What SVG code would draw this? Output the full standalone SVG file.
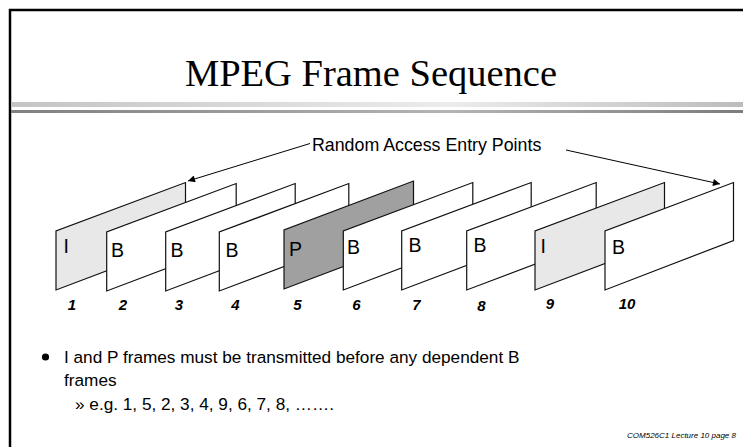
<svg xmlns="http://www.w3.org/2000/svg" width="743" height="447" viewBox="0 0 743 447">
<style>
.frame{stroke:#111;stroke-width:1.2;stroke-linejoin:miter}
.lbl{font-family:"Liberation Sans",Arial,sans-serif;font-size:19.5px;fill:#000}
.num{font-family:"Liberation Sans",Arial,sans-serif;font-size:15px;font-weight:bold;font-style:italic;fill:#000;text-anchor:middle}
.body{font-family:"Liberation Sans",Arial,sans-serif;font-size:17.2px;fill:#000}
.conn{stroke:#000;stroke-width:1;fill:none;marker-end:url(#ah)}
</style>
<defs>
<marker id="ah" viewBox="0 0 10 10" refX="10" refY="5" markerWidth="9" markerHeight="7" markerUnits="userSpaceOnUse" orient="auto">
<path d="M0,0 L10,5 L0,10 Z" fill="#000"/>
</marker>
<linearGradient id="g1" x1="0" y1="0" x2="1" y2="0">
<stop offset="0" stop-color="#c4c4c4"/>
<stop offset="0.6" stop-color="#ececec"/>
<stop offset="1" stop-color="#bcbcbc"/>
</linearGradient>
<linearGradient id="g2" x1="0" y1="0" x2="1" y2="0">
<stop offset="0" stop-color="#808080"/>
<stop offset="0.6" stop-color="#b4b4b4"/>
<stop offset="1" stop-color="#7c7c7c"/>
</linearGradient>
</defs>
<rect width="743" height="447" fill="#fff"/>
<g id="border">
<path d="M10,447 V10 H743" fill="none" stroke="#000" stroke-width="2.5"/>
<rect x="11" y="102" width="732" height="5" fill="url(#g1)"/>
<rect x="11" y="110" width="732" height="3" fill="url(#g2)"/>
</g>
<g id="title">
<text x="371" y="86" text-anchor="middle" font-family="Liberation Serif,Times New Roman,serif" font-size="38.5" fill="#000">MPEG Frame Sequence</text>
</g>
<g id="label-random">
<text x="312" y="151" font-family="Liberation Sans,Arial,sans-serif" font-size="17.8" fill="#000">Random Access Entry Points</text>
</g>
<g id="f1"><polygon class="frame" fill="#e8e8e8" points="56,290 56,231 185.5,182.5 185.5,241"/><text class="lbl" x="63.5" y="253">I</text></g>
<g id="f2"><polygon class="frame" fill="#fff" points="106.7,291 106.7,232 236.2,183.5 236.2,242"/><text class="lbl" x="111" y="257">B</text></g>
<g id="f3"><polygon class="frame" fill="#fff" points="165.7,291 165.7,232 295.2,183.5 295.2,242"/><text class="lbl" x="170.5" y="257">B</text></g>
<g id="f4"><polygon class="frame" fill="#fff" points="219.3,291 219.3,232 348.8,183.5 348.8,242"/><text class="lbl" x="225.5" y="257">B</text></g>
<g id="f5"><polygon class="frame" fill="#a0a0a0" points="284,289 284,230 413.5,181 413.5,240"/><text class="lbl" x="289" y="256">P</text></g>
<g id="f6"><polygon class="frame" fill="#fff" points="343.3,290 343.3,231 472.8,182.5 472.8,241"/><text class="lbl" x="347" y="254">B</text></g>
<g id="f7"><polygon class="frame" fill="#fff" points="401.7,290 401.7,231 531.2,182.5 531.2,241"/><text class="lbl" x="408.5" y="252">B</text></g>
<g id="f8"><polygon class="frame" fill="#fff" points="466.7,290 466.7,231 596.2,182.5 596.2,241"/><text class="lbl" x="473.5" y="252">B</text></g>
<g id="f9"><polygon class="frame" fill="#e8e8e8" points="535,290 535,231 664.5,182.5 664.5,241"/><text class="lbl" x="540.5" y="253">I</text></g>
<g id="f10"><polygon class="frame" fill="#fff" points="605,290 605,231 733.5,182.5 733.5,240.5"/><text class="lbl" x="612" y="254">B</text></g>
<g id="numbers">
<text class="num" x="72" y="310">1</text>
<text class="num" x="123" y="310">2</text>
<text class="num" x="179" y="310">3</text>
<text class="num" x="235.5" y="310">4</text>
<text class="num" x="297.5" y="310">5</text>
<text class="num" x="356.5" y="310">6</text>
<text class="num" x="416.5" y="310">7</text>
<text class="num" x="481.5" y="311">8</text>
<text class="num" x="550" y="309">9</text>
<text class="num" x="627" y="309">10</text>
</g>
<g id="connectors">
<line class="conn" x1="310" y1="143.5" x2="188" y2="181"/>
<line class="conn" x1="566" y1="150" x2="720" y2="184"/>
</g>
<g id="bullets">
<circle cx="45.5" cy="357" r="3.6" fill="#000"/>
<text class="body" x="64" y="363">I and P frames must be transmitted before any dependent B</text>
<text class="body" x="64" y="386">frames</text>
<text class="body" x="75" y="410">» e.g. 1, 5, 2, 3, 4, 9, 6, 7, 8, …….</text>
</g>
<g id="footer">
<text x="736" y="438" text-anchor="end" font-family="Liberation Sans,Arial,sans-serif" font-size="8" font-style="italic" fill="#000">COM526C1 Lecture 10 page 8</text>
</g>
</svg>
